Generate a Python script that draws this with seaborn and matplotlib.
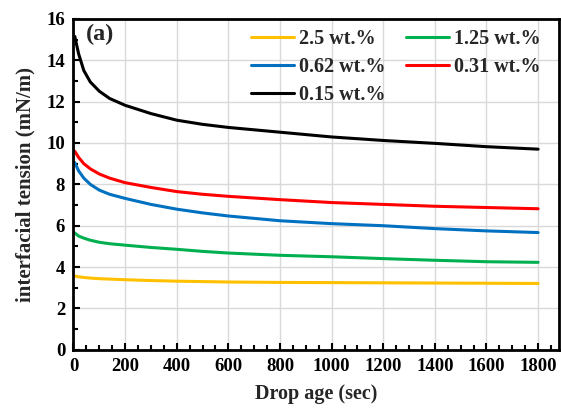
import numpy as np
import pandas as pd
import matplotlib
matplotlib.use("Agg")
import matplotlib.pyplot as plt
import seaborn as sns
from matplotlib.ticker import MultipleLocator

# ---- data ----
drop_age = [5, 20, 40, 65, 100, 140, 200, 300, 400, 500, 600, 800, 1000, 1200, 1400, 1600, 1800]
ift_2_5 = [3.57, 3.53, 3.50, 3.47, 3.44, 3.42, 3.39, 3.35, 3.32, 3.30, 3.28, 3.26, 3.25, 3.24, 3.23, 3.22, 3.21]
ift_1_25 = [5.65, 5.50, 5.40, 5.30, 5.20, 5.13, 5.06, 4.95, 4.86, 4.76, 4.68, 4.57, 4.50, 4.41, 4.33, 4.26, 4.23]
ift_0_62 = [9.05, 8.65, 8.30, 8.00, 7.72, 7.52, 7.32, 7.03, 6.80, 6.62, 6.47, 6.24, 6.10, 6.00, 5.86, 5.75, 5.67]
ift_0_31 = [9.60, 9.30, 9.00, 8.75, 8.50, 8.30, 8.08, 7.85, 7.65, 7.52, 7.42, 7.26, 7.12, 7.03, 6.94, 6.88, 6.82]
ift_0_15 = [15.15, 14.30, 13.50, 12.95, 12.50, 12.15, 11.82, 11.42, 11.10, 10.90, 10.75, 10.52, 10.29, 10.12, 9.98, 9.82, 9.70]

series_names = ["2.5 wt.%", "1.25 wt.%", "0.62 wt.%", "0.31 wt.%", "0.15 wt.%"]
series_values = [ift_2_5, ift_1_25, ift_0_62, ift_0_31, ift_0_15]
colors = ["#FFC000", "#00B050", "#0070C0", "#FF0000", "#000000"]

rows = []
for name, vals in zip(series_names, series_values):
    for x, y in zip(drop_age, vals):
        rows.append({"age": x, "ift": y, "series": name})
df = pd.DataFrame(rows)

sns.set_theme(style="white")
plt.rcParams["font.family"] = ["Liberation Serif", "DejaVu Serif"]
plt.rcParams["font.weight"] = "bold"

fig = plt.figure(figsize=(5.61, 4.18), dpi=100)
ax = fig.add_axes([0.131, 0.163, 0.865, 0.792])

sns.lineplot(data=df, x="age", y="ift", hue="series", hue_order=series_names,
             palette=dict(zip(series_names, colors)), linewidth=2.2, ax=ax,
             estimator=None, sort=True)

ax.set_xlim(0, 1880)
ax.set_ylim(0, 16)
ax.xaxis.set_major_locator(MultipleLocator(200))
ax.xaxis.set_minor_locator(MultipleLocator(50))
ax.yaxis.set_major_locator(MultipleLocator(2))
ax.yaxis.set_minor_locator(MultipleLocator(1))
ax.grid(True, which="major", color="#D9D9D9", linewidth=1.0)
ax.set_axisbelow(True)

for s in ax.spines.values():
    s.set_color("black")
    s.set_linewidth(2.0)

ax.tick_params(axis="both", which="major", direction="in", length=5, width=1.5,
               colors="black", labelsize=13.5, pad=6,
               bottom=True, left=True)
ax.tick_params(axis="both", which="minor", direction="in", length=3.5, width=1.5,
               colors="black", bottom=True, left=True)
for lab in ax.get_xticklabels() + ax.get_yticklabels():
    lab.set_fontweight("bold")

ax.set_xlabel("Drop age (sec)", fontsize=14.5, fontweight="bold", labelpad=6)
ax.set_ylabel("interfacial tension (mN/m)", fontsize=15, fontweight="bold", labelpad=8)

ax.text(0.026, 0.985, "(a)", transform=ax.transAxes, fontsize=17.5,
        fontweight="bold", va="top", ha="left")

handles, labels = ax.get_legend_handles_labels()
hmap = dict(zip(labels, handles))
order = ["2.5 wt.%", "0.62 wt.%", "0.15 wt.%", "1.25 wt.%", "0.31 wt.%"]
leg = ax.legend([hmap[o] for o in order], order, ncol=2, frameon=False,
                loc="upper left", bbox_to_anchor=(0.366, 0.968),
                prop={"size": 14.5, "weight": "bold"},
                handlelength=2.15, handletextpad=0.25, columnspacing=1.0,
                labelspacing=0.38, borderaxespad=0.0, borderpad=0.0)

fig.savefig("out.png", dpi=100)
